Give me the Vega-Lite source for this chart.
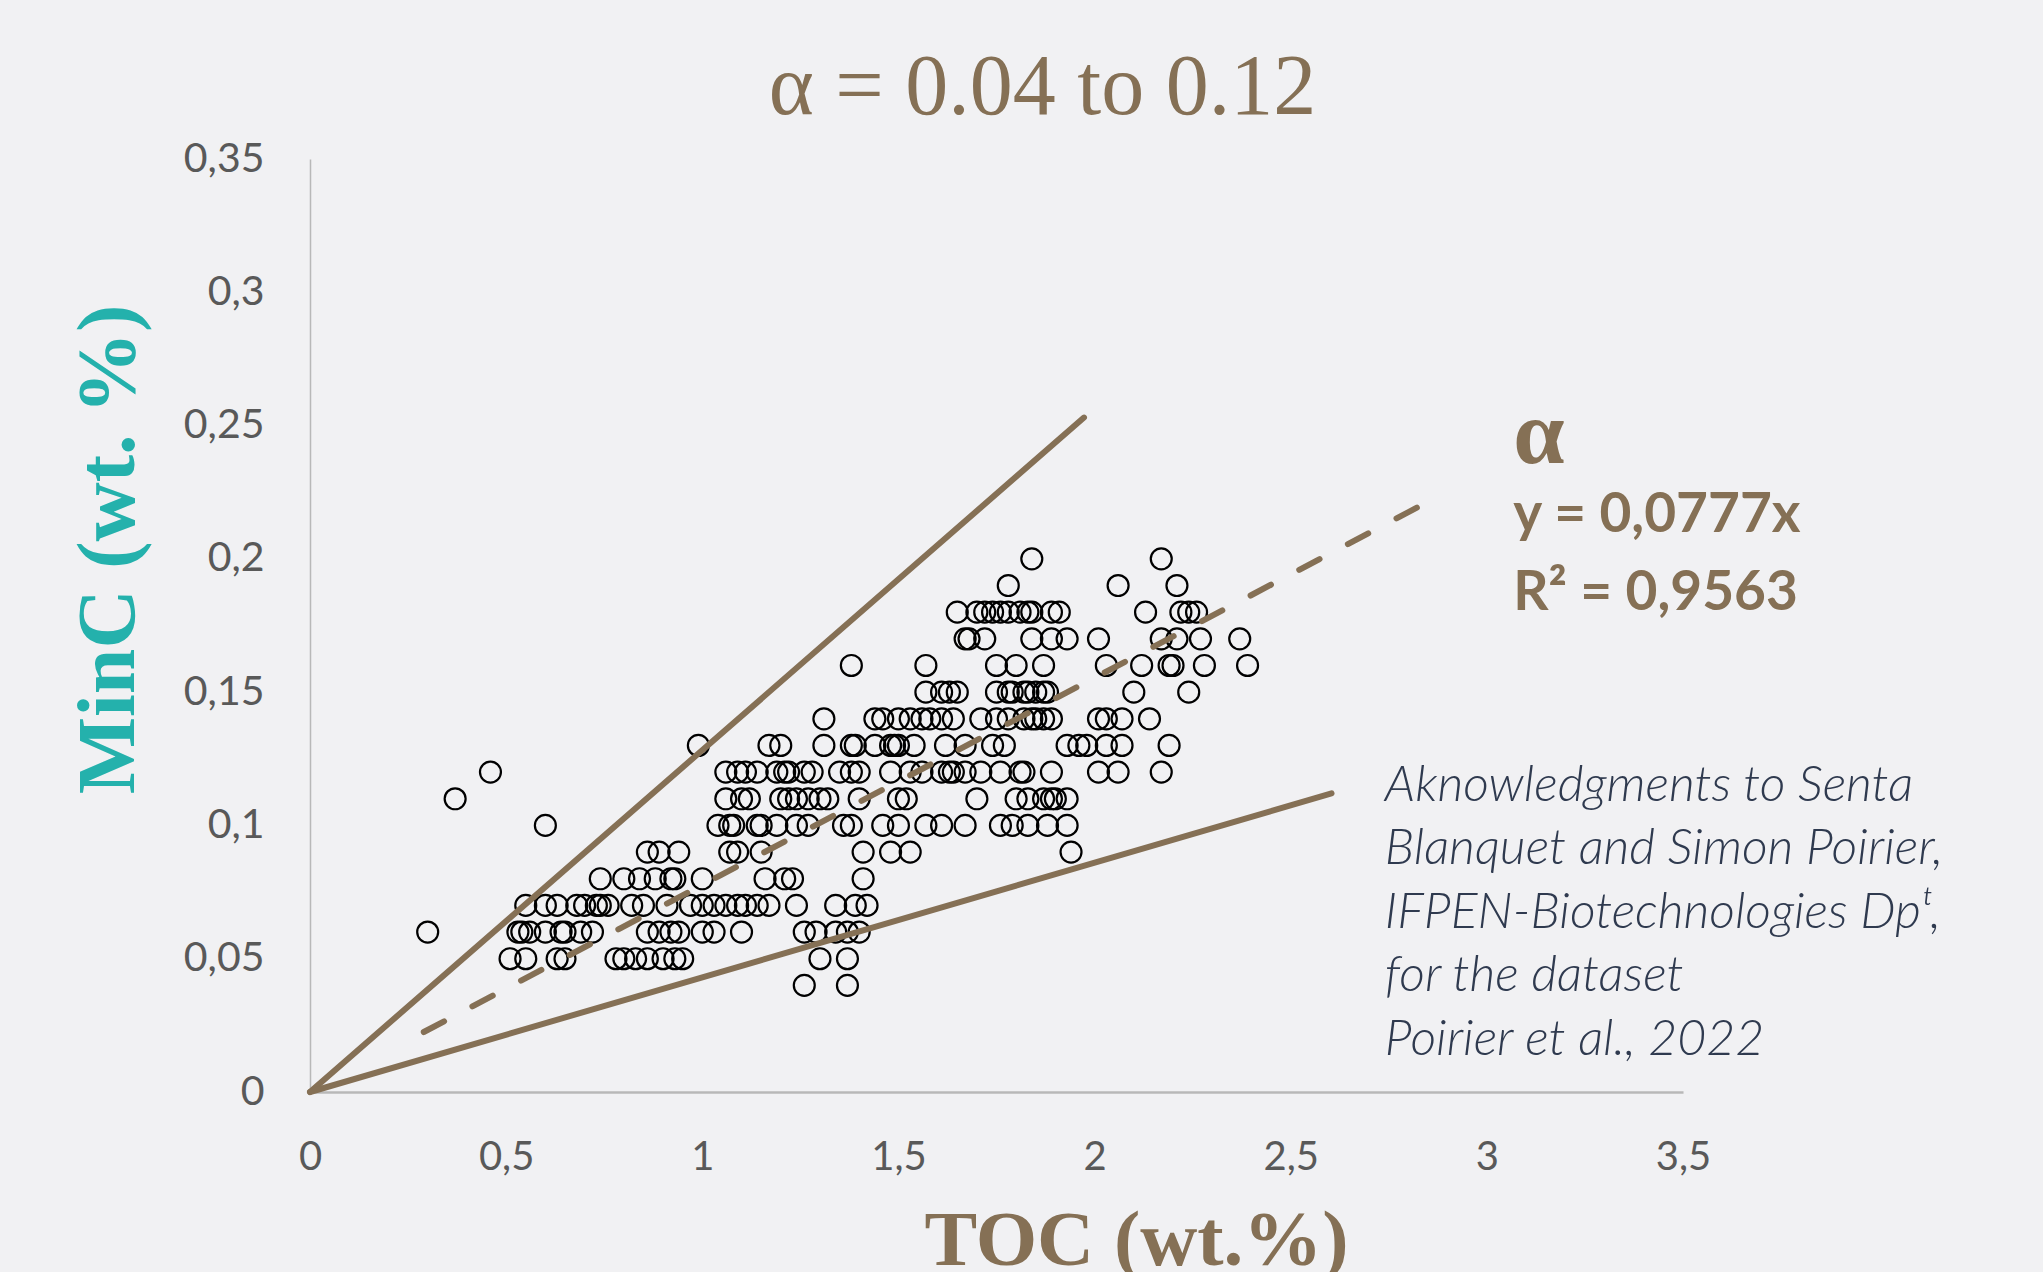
{
  "$schema": "https://vega.github.io/schema/vega-lite/v6.json",
  "width": 1373,
  "height": 933,
  "autosize": {"type": "none"},
  "padding": {"left": 310, "top": 159, "right": 360, "bottom": 180},
  "background": "#F1F1F3",
  "config": {"view": {"stroke": null}},
  "title": {
    "text": "α = 0.04 to 0.12",
    "font": "Liberation Serif",
    "fontSize": 86,
    "fontWeight": "normal",
    "color": "#857055",
    "anchor": "middle",
    "dx": 46,
    "offset": 6
  },
  "datasets": {
    "pts": [
      {"toc": 1.26, "minc": 0.04}, {"toc": 1.37, "minc": 0.04},
      {"toc": 0.51, "minc": 0.05}, {"toc": 0.55, "minc": 0.05}, {"toc": 0.63, "minc": 0.05}, {"toc": 0.65, "minc": 0.05}, {"toc": 0.78, "minc": 0.05}, {"toc": 0.80, "minc": 0.05}, {"toc": 0.83, "minc": 0.05}, {"toc": 0.86, "minc": 0.05}, {"toc": 0.90, "minc": 0.05}, {"toc": 0.93, "minc": 0.05}, {"toc": 0.95, "minc": 0.05}, {"toc": 1.30, "minc": 0.05}, {"toc": 1.37, "minc": 0.05},
      {"toc": 0.30, "minc": 0.06}, {"toc": 0.53, "minc": 0.06}, {"toc": 0.54, "minc": 0.06}, {"toc": 0.56, "minc": 0.06}, {"toc": 0.60, "minc": 0.06}, {"toc": 0.64, "minc": 0.06}, {"toc": 0.65, "minc": 0.06}, {"toc": 0.69, "minc": 0.06}, {"toc": 0.72, "minc": 0.06}, {"toc": 0.86, "minc": 0.06}, {"toc": 0.89, "minc": 0.06}, {"toc": 0.92, "minc": 0.06}, {"toc": 0.94, "minc": 0.06}, {"toc": 1.00, "minc": 0.06}, {"toc": 1.03, "minc": 0.06}, {"toc": 1.10, "minc": 0.06}, {"toc": 1.26, "minc": 0.06}, {"toc": 1.29, "minc": 0.06}, {"toc": 1.34, "minc": 0.06}, {"toc": 1.37, "minc": 0.06}, {"toc": 1.40, "minc": 0.06},
      {"toc": 0.55, "minc": 0.07}, {"toc": 0.60, "minc": 0.07}, {"toc": 0.63, "minc": 0.07}, {"toc": 0.68, "minc": 0.07}, {"toc": 0.70, "minc": 0.07}, {"toc": 0.73, "minc": 0.07}, {"toc": 0.74, "minc": 0.07}, {"toc": 0.76, "minc": 0.07}, {"toc": 0.82, "minc": 0.07}, {"toc": 0.85, "minc": 0.07}, {"toc": 0.91, "minc": 0.07}, {"toc": 0.97, "minc": 0.07}, {"toc": 1.00, "minc": 0.07}, {"toc": 1.03, "minc": 0.07}, {"toc": 1.06, "minc": 0.07}, {"toc": 1.09, "minc": 0.07}, {"toc": 1.11, "minc": 0.07}, {"toc": 1.14, "minc": 0.07}, {"toc": 1.17, "minc": 0.07}, {"toc": 1.24, "minc": 0.07}, {"toc": 1.34, "minc": 0.07}, {"toc": 1.39, "minc": 0.07}, {"toc": 1.42, "minc": 0.07},
      {"toc": 0.74, "minc": 0.08}, {"toc": 0.80, "minc": 0.08}, {"toc": 0.84, "minc": 0.08}, {"toc": 0.88, "minc": 0.08}, {"toc": 0.92, "minc": 0.08}, {"toc": 0.93, "minc": 0.08}, {"toc": 1.00, "minc": 0.08}, {"toc": 1.16, "minc": 0.08}, {"toc": 1.21, "minc": 0.08}, {"toc": 1.23, "minc": 0.08}, {"toc": 1.41, "minc": 0.08},
      {"toc": 0.86, "minc": 0.09}, {"toc": 0.89, "minc": 0.09}, {"toc": 0.94, "minc": 0.09}, {"toc": 1.07, "minc": 0.09}, {"toc": 1.09, "minc": 0.09}, {"toc": 1.15, "minc": 0.09}, {"toc": 1.41, "minc": 0.09}, {"toc": 1.48, "minc": 0.09}, {"toc": 1.53, "minc": 0.09}, {"toc": 1.94, "minc": 0.09},
      {"toc": 0.60, "minc": 0.10}, {"toc": 1.04, "minc": 0.10}, {"toc": 1.07, "minc": 0.10}, {"toc": 1.08, "minc": 0.10}, {"toc": 1.14, "minc": 0.10}, {"toc": 1.15, "minc": 0.10}, {"toc": 1.19, "minc": 0.10}, {"toc": 1.24, "minc": 0.10}, {"toc": 1.27, "minc": 0.10}, {"toc": 1.36, "minc": 0.10}, {"toc": 1.38, "minc": 0.10}, {"toc": 1.46, "minc": 0.10}, {"toc": 1.50, "minc": 0.10}, {"toc": 1.57, "minc": 0.10}, {"toc": 1.61, "minc": 0.10}, {"toc": 1.67, "minc": 0.10}, {"toc": 1.76, "minc": 0.10}, {"toc": 1.79, "minc": 0.10}, {"toc": 1.83, "minc": 0.10}, {"toc": 1.88, "minc": 0.10}, {"toc": 1.93, "minc": 0.10},
      {"toc": 0.37, "minc": 0.11}, {"toc": 1.06, "minc": 0.11}, {"toc": 1.10, "minc": 0.11}, {"toc": 1.12, "minc": 0.11}, {"toc": 1.20, "minc": 0.11}, {"toc": 1.22, "minc": 0.11}, {"toc": 1.24, "minc": 0.11}, {"toc": 1.27, "minc": 0.11}, {"toc": 1.30, "minc": 0.11}, {"toc": 1.32, "minc": 0.11}, {"toc": 1.40, "minc": 0.11}, {"toc": 1.50, "minc": 0.11}, {"toc": 1.52, "minc": 0.11}, {"toc": 1.70, "minc": 0.11}, {"toc": 1.80, "minc": 0.11}, {"toc": 1.83, "minc": 0.11}, {"toc": 1.87, "minc": 0.11}, {"toc": 1.89, "minc": 0.11}, {"toc": 1.90, "minc": 0.11}, {"toc": 1.93, "minc": 0.11},
      {"toc": 0.46, "minc": 0.12}, {"toc": 1.06, "minc": 0.12}, {"toc": 1.09, "minc": 0.12}, {"toc": 1.11, "minc": 0.12}, {"toc": 1.14, "minc": 0.12}, {"toc": 1.19, "minc": 0.12}, {"toc": 1.21, "minc": 0.12}, {"toc": 1.22, "minc": 0.12}, {"toc": 1.26, "minc": 0.12}, {"toc": 1.28, "minc": 0.12}, {"toc": 1.35, "minc": 0.12}, {"toc": 1.38, "minc": 0.12}, {"toc": 1.40, "minc": 0.12}, {"toc": 1.48, "minc": 0.12}, {"toc": 1.53, "minc": 0.12}, {"toc": 1.56, "minc": 0.12}, {"toc": 1.61, "minc": 0.12}, {"toc": 1.63, "minc": 0.12}, {"toc": 1.64, "minc": 0.12}, {"toc": 1.67, "minc": 0.12}, {"toc": 1.71, "minc": 0.12}, {"toc": 1.76, "minc": 0.12}, {"toc": 1.81, "minc": 0.12}, {"toc": 1.82, "minc": 0.12}, {"toc": 1.89, "minc": 0.12}, {"toc": 2.01, "minc": 0.12}, {"toc": 2.06, "minc": 0.12}, {"toc": 2.17, "minc": 0.12},
      {"toc": 0.99, "minc": 0.13}, {"toc": 1.17, "minc": 0.13}, {"toc": 1.20, "minc": 0.13}, {"toc": 1.31, "minc": 0.13}, {"toc": 1.38, "minc": 0.13}, {"toc": 1.39, "minc": 0.13}, {"toc": 1.44, "minc": 0.13}, {"toc": 1.48, "minc": 0.13}, {"toc": 1.49, "minc": 0.13}, {"toc": 1.50, "minc": 0.13}, {"toc": 1.54, "minc": 0.13}, {"toc": 1.62, "minc": 0.13}, {"toc": 1.67, "minc": 0.13}, {"toc": 1.74, "minc": 0.13}, {"toc": 1.77, "minc": 0.13}, {"toc": 1.93, "minc": 0.13}, {"toc": 1.96, "minc": 0.13}, {"toc": 1.98, "minc": 0.13}, {"toc": 2.03, "minc": 0.13}, {"toc": 2.07, "minc": 0.13}, {"toc": 2.19, "minc": 0.13},
      {"toc": 1.31, "minc": 0.14}, {"toc": 1.44, "minc": 0.14}, {"toc": 1.46, "minc": 0.14}, {"toc": 1.50, "minc": 0.14}, {"toc": 1.53, "minc": 0.14}, {"toc": 1.56, "minc": 0.14}, {"toc": 1.58, "minc": 0.14}, {"toc": 1.61, "minc": 0.14}, {"toc": 1.64, "minc": 0.14}, {"toc": 1.71, "minc": 0.14}, {"toc": 1.75, "minc": 0.14}, {"toc": 1.78, "minc": 0.14}, {"toc": 1.82, "minc": 0.14}, {"toc": 1.84, "minc": 0.14}, {"toc": 1.85, "minc": 0.14}, {"toc": 1.87, "minc": 0.14}, {"toc": 1.89, "minc": 0.14}, {"toc": 2.01, "minc": 0.14}, {"toc": 2.03, "minc": 0.14}, {"toc": 2.07, "minc": 0.14}, {"toc": 2.14, "minc": 0.14},
      {"toc": 1.57, "minc": 0.15}, {"toc": 1.61, "minc": 0.15}, {"toc": 1.63, "minc": 0.15}, {"toc": 1.65, "minc": 0.15}, {"toc": 1.75, "minc": 0.15}, {"toc": 1.78, "minc": 0.15}, {"toc": 1.79, "minc": 0.15}, {"toc": 1.82, "minc": 0.15}, {"toc": 1.83, "minc": 0.15}, {"toc": 1.85, "minc": 0.15}, {"toc": 1.87, "minc": 0.15}, {"toc": 1.88, "minc": 0.15}, {"toc": 2.10, "minc": 0.15}, {"toc": 2.24, "minc": 0.15},
      {"toc": 1.38, "minc": 0.16}, {"toc": 1.57, "minc": 0.16}, {"toc": 1.75, "minc": 0.16}, {"toc": 1.80, "minc": 0.16}, {"toc": 1.87, "minc": 0.16}, {"toc": 2.03, "minc": 0.16}, {"toc": 2.12, "minc": 0.16}, {"toc": 2.19, "minc": 0.16}, {"toc": 2.20, "minc": 0.16}, {"toc": 2.28, "minc": 0.16}, {"toc": 2.39, "minc": 0.16},
      {"toc": 1.67, "minc": 0.17}, {"toc": 1.68, "minc": 0.17}, {"toc": 1.72, "minc": 0.17}, {"toc": 1.84, "minc": 0.17}, {"toc": 1.89, "minc": 0.17}, {"toc": 1.93, "minc": 0.17}, {"toc": 2.01, "minc": 0.17}, {"toc": 2.17, "minc": 0.17}, {"toc": 2.21, "minc": 0.17}, {"toc": 2.27, "minc": 0.17}, {"toc": 2.37, "minc": 0.17},
      {"toc": 1.65, "minc": 0.18}, {"toc": 1.70, "minc": 0.18}, {"toc": 1.72, "minc": 0.18}, {"toc": 1.74, "minc": 0.18}, {"toc": 1.76, "minc": 0.18}, {"toc": 1.78, "minc": 0.18}, {"toc": 1.81, "minc": 0.18}, {"toc": 1.83, "minc": 0.18}, {"toc": 1.84, "minc": 0.18}, {"toc": 1.89, "minc": 0.18}, {"toc": 1.91, "minc": 0.18}, {"toc": 2.13, "minc": 0.18}, {"toc": 2.22, "minc": 0.18}, {"toc": 2.24, "minc": 0.18}, {"toc": 2.26, "minc": 0.18},
      {"toc": 1.78, "minc": 0.19}, {"toc": 2.06, "minc": 0.19}, {"toc": 2.21, "minc": 0.19},
      {"toc": 1.84, "minc": 0.20}, {"toc": 2.17, "minc": 0.20}
    ],
    "lines": [
      {"id": "upper", "toc": 0, "minc": 0}, {"id": "upper", "toc": 1.973, "minc": 0.253},
      {"id": "lower", "toc": 0, "minc": 0}, {"id": "lower", "toc": 2.604, "minc": 0.112},
      {"id": "fit", "toc": 0.29, "minc": 0.0225}, {"id": "fit", "toc": 2.89, "minc": 0.2245}
    ],
    "one": [{}]
  },
  "layer": [
    {
      "data": {"name": "pts"},
      "mark": {"type": "point", "shape": "circle", "filled": false, "stroke": "#000000", "strokeWidth": 2.2, "size": 440, "opacity": 1},
      "encoding": {
        "x": {
          "field": "toc", "type": "quantitative",
          "scale": {"domain": [0, 3.5], "nice": false, "zero": true},
          "axis": {
            "values": [0, 0.5, 1, 1.5, 2, 2.5, 3, 3.5],
            "labelExpr": "replace(format(datum.value, '.1~f'), '.', ',')",
            "grid": false, "ticks": false,
            "domainColor": "#B8B8B8", "domainWidth": 2.5,
            "labelFont": "Lato", "labelFontSize": 40, "labelColor": "#595959",
            "labelPadding": 65, "labelBaseline": "middle", "labelFlush": false, "labelOverlap": false,
            "title": "TOC (wt.%)",
            "titleFont": "Liberation Serif", "titleFontWeight": "bold", "titleFontSize": 79, "titleColor": "#857055",
            "titleX": 826, "titleY": 172, "titleBaseline": "alphabetic", "titleAlign": "center"
          }
        },
        "y": {
          "field": "minc", "type": "quantitative",
          "scale": {"domain": [0, 0.35], "nice": false, "zero": true},
          "axis": {
            "values": [0, 0.05, 0.1, 0.15, 0.2, 0.25, 0.3, 0.35],
            "labelExpr": "replace(format(datum.value, '.2~f'), '.', ',')",
            "grid": false, "ticks": false,
            "domainColor": "#B8B8B8", "domainWidth": 1.5,
            "labelFont": "Lato", "labelFontSize": 41, "labelColor": "#595959",
            "labelPadding": 46, "labelFlush": false, "labelOverlap": false,
            "title": "MinC (wt. %)",
            "titleFont": "Liberation Serif", "titleFontWeight": "bold", "titleFontSize": 82, "titleColor": "#24B1AC",
            "titleAngle": 270, "titleX": -177, "titleY": 390, "titleBaseline": "alphabetic", "titleAlign": "center"
          }
        }
      }
    },
    {
      "data": {"name": "lines"},
      "transform": [{"filter": "datum.id !== 'fit'"}],
      "mark": {"type": "line", "color": "#857055", "strokeWidth": 6, "strokeCap": "round"},
      "encoding": {
        "x": {"field": "toc", "type": "quantitative"},
        "y": {"field": "minc", "type": "quantitative"},
        "detail": {"field": "id"}
      }
    },
    {
      "data": {"name": "lines"},
      "transform": [{"filter": "datum.id === 'fit'"}],
      "mark": {"type": "line", "color": "#857055", "strokeWidth": 6, "strokeCap": "round", "strokeDash": [23, 32]},
      "encoding": {
        "x": {"field": "toc", "type": "quantitative"},
        "y": {"field": "minc", "type": "quantitative"}
      }
    },
    {
      "data": {"name": "one"},
      "mark": {"type": "text", "text": "α", "font": "Liberation Serif", "fontSize": 92, "fontWeight": "bold", "color": "#857055", "align": "left", "baseline": "alphabetic"},
      "encoding": {"x": {"datum": 3.067}, "y": {"datum": 0.236}}
    },
    {
      "data": {"name": "one"},
      "mark": {"type": "text", "text": ["y = 0,0777x", "R² = 0,9563"], "lineHeight": 78, "font": "Lato", "fontSize": 55, "fontWeight": "bold", "color": "#857055", "align": "left", "baseline": "alphabetic"},
      "encoding": {"x": {"datum": 3.067}, "y": {"datum": 0.2101}}
    },
    {
      "data": {"name": "one"},
      "mark": {"type": "text", "text": ["Aknowledgments to Senta", "Blanquet and Simon Poirier,", "IFPEN-Biotechnologies Dpᵗ,", "for the dataset", "Poirier et al., 2022"], "lineHeight": 63.5, "font": "Lato", "fontSize": 50, "fontStyle": "italic", "fontWeight": 300, "color": "#2F3A4F", "align": "left", "baseline": "alphabetic"},
      "encoding": {"x": {"datum": 2.74}, "y": {"datum": 0.1092}}
    }
  ]
}
